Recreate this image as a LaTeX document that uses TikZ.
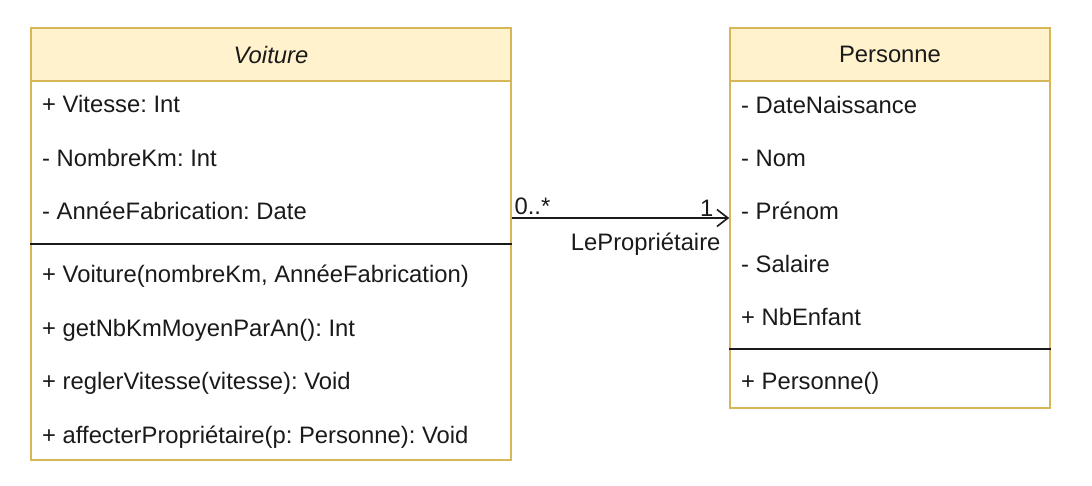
\documentclass[tikz,border=0pt]{standalone}
\usepackage{fontspec}
\setmainfont{Liberation Sans}
\usetikzlibrary{positioning, calc, arrows.meta}
\definecolor{headfill}{HTML}{FFF2CC}
\definecolor{headdraw}{HTML}{D6B656}
\definecolor{txt}{HTML}{1A1A1A}
\tikzstyle{Arrow} = [
%open arrow of the association:
line width=1.6pt, draw=txt,
-{Straight Barb[length=11pt, width=17pt, line width=1.6pt]}
]

\begin{document}
\frenchspacing
\begin{tikzpicture}[x=1pt, y=-1pt,
			header/.style = {rectangle, draw=headdraw, fill=headfill, line width=1.5pt, text=txt, inner sep=0pt},
			body/.style = {rectangle, draw=headdraw, fill=white, line width=1.5pt, inner sep=0pt},
			item/.style = {anchor=west, text=txt, inner sep=0pt},
			sep/.style = {line width=1.6pt, draw=txt},
			every node/.style = {font=\fontsize{23.8}{27}\selectfont},
		]
		\useasboundingbox (0,0) rectangle (1092,486);

		% Voiture
		\node[body, minimum width=480pt, minimum height=379pt](voitureBody) at (271,270.5){};
		\node[header, minimum width=480pt, minimum height=53pt](voitureHead) at (271,54.5){\textit{Voiture}};
		\node[item](v1) at (42,104){+ Vitesse: Int};
		\node[item](v2) at (42,158){- NombreKm: Int};
		\node[item](v3) at (42,211){- AnnéeFabrication: Date};
		\draw[sep](voitureBody.west |- 0,244)--(voitureBody.east |- 0,244);
		\node[item](v4) at (42,276){+ Voiture(nombreKm, AnnéeFabrication)};
		\node[item](v5) at (42,330){+ getNbKmMoyenParAn(): Int};
		\node[item](v6) at (42,383){+ reglerVitesse(vitesse): Void};
		\node[item](v7) at (42,437){+ affecterPropriétaire(p: Personne): Void};

		% Personne
		\node[body, minimum width=320pt, minimum height=327pt](personneBody) at (890,244.5){};
		\node[header, minimum width=320pt, minimum height=53pt](personneHead) at (890,54.5){Personne};
		\node[item](p1) at (741,105){- DateNaissance};
		\node[item](p2) at (741,158){- Nom};
		\node[item](p3) at (741,211){- Prénom};
		\node[item](p4) at (741,264){- Salaire};
		\node[item](p5) at (741,317){+ NbEnfant};
		\draw[sep](personneBody.west |- 0,349)--(personneBody.east |- 0,349);
		\node[item](p6) at (741,383){+ Personne()};

		% association
		\coordinate(assocY) at (0,218);
		\draw[Arrow](voitureBody.east |- assocY)--(personneBody.west |- assocY)
			node[pos=0, above right, inner sep=2pt, text=txt]{0..*}
			node[pos=1, above left, inner sep=1pt, xshift=-14pt, text=txt]{1}
			node[pos=1, below left, inner sep=2pt, yshift=-12pt, xshift=-6pt, text=txt]{LePropriétaire};
	\end{tikzpicture}
\end{document}
